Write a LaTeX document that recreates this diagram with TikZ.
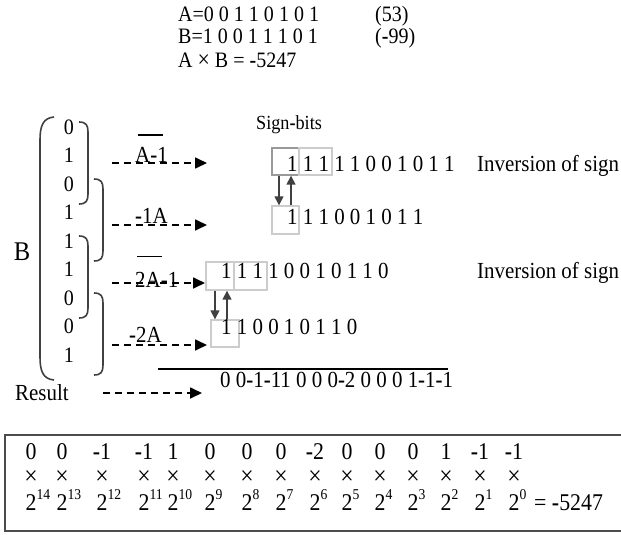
\documentclass[tikz,border=0pt]{standalone}
\usepackage{fontspec}
\setmainfont{Liberation Serif}[FakeStretch=0.91]
\usetikzlibrary{arrows.meta,calc}
\newcommand{\mn}{\textbf{-}}
\newcommand{\pow}[1]{2\raisebox{0.42em}{\fontsize{15}{17}\selectfont#1}}

\begin{document}
\begin{tikzpicture}[x=1pt,y=-1pt,
    txt/.style={anchor=base west,inner sep=0pt,font=\fontsize{23}{27}\selectfont},
    big/.style={txt,font=\fontsize{24}{28}\selectfont},
    feed/.style={line width=1.7pt,dash pattern=on 7pt off 5pt,-{Triangle[length=12pt,width=11pt]}},
    swap/.style={draw=black!75,line width=1.5pt,-{Triangle[length=9pt,width=9pt]}},
    brace/.style={draw=black!75,line width=1.6pt},
    cell/.style={draw=black!20,line width=1.4pt,inner sep=0pt,minimum height=27pt},
    bar/.style={line width=1.8pt}]
  \useasboundingbox (0,0) rectangle (621,535);

  % operands and product
  \node[txt,font=\fontsize{22}{26}\selectfont] (opa) at (178,22) {A=0 0 1 1 0 1 0 1};
  \node[txt,font=\fontsize{22}{26}\selectfont] (deca) at (375,22) {(53)};
  \node[txt,font=\fontsize{22}{26}\selectfont] (opb) at (178,44) {B=1 0 0 1 1 1 0 1};
  \node[txt,font=\fontsize{22}{26}\selectfont] (decb) at (375,44) {(\mn99)};
  \node[txt,font=\fontsize{22}{26}\selectfont] (prod) at (178,67) {A {\fontsize{24}{24}\selectfont×} B = \mn5247};

  % multiplier bits with overlapping groups of three
  \node[txt,anchor=base,font=\fontsize{27}{32}\selectfont] (B) at (22,260) {B};
  \foreach \b [count=\i from 0] in {0,1,0,1,1,1,0,0,1}
    \node[txt,anchor=base,font=\fontsize{22}{26}\selectfont] (b\i) at (69,134+28.5*\i) {\b};
  \draw[brace] (54,117) .. controls (43,118) and (40,126) .. (40,140) -- (40,357)
    .. controls (40,371) and (43,379) .. (54,380);
  \foreach \k/\x in {0/88,1/103,2/88,3/103}
    \draw[brace] (\x-9,122+57*\k) .. controls (\x-2,122+57*\k) and (\x,125+57*\k) .. (\x,132+57*\k)
      -- (\x,194+57*\k) .. controls (\x,201+57*\k) and (\x-2,204+57*\k) .. (\x-9,204+57*\k);

  % partial products
  \coordinate (f1) at (112,163); \coordinate (t1) at (207,163);
  \coordinate (f2) at (112,225); \coordinate (t2) at (207,225);
  \coordinate (f3) at (112,283); \coordinate (t3) at (205,283);
  \coordinate (f4) at (112,345); \coordinate (t4) at (207,345);
  \draw[feed] (f1) -- (t1);
  \draw[feed] (f2) -- (t2);
  \draw[feed] (f3) -- (t3);
  \draw[feed] (f4) -- (t4);
  \node[txt] (p1) at (135,162) {A\mn1};
  \draw[bar] ($(p1.north west)+(3,-12)$) -- ++(25,0);
  \node[txt] (p2) at (135,223) {\mn1A};
  \node[txt] (p3) at (135,287) {2A\mn1};
  \draw[bar] ($(p3.north west)+(2,-15)$) -- ++(25,0);
  \node[txt] (p4) at (129,342) {\mn2A};

  \node[txt,font=\fontsize{20}{24}\selectfont] (sgn) at (256,129) {Sign\mn bits};

  % sign-bit cells, first pair
  \node[cell,draw=black!40,minimum width=27pt] (s1a) at (285.5,161.5) {};
  \node[cell,minimum width=33pt] (s1b) at (315.5,161.5) {};
  \node[txt] (r1) at (287,171) {1 1 1 1 1 0 0 1 0 1 1};
  \node[txt] (inv1) at (477,171) {Inversion of sign};
  \node[cell,minimum width=27pt,minimum height=28pt] (s2) at (285.5,220) {};
  \node[txt] (r2) at (287,224) {1 1 1 0 0 1 0 1 1};
  \coordinate (d1) at ([xshift=-6.5pt]s1a.south);
  \coordinate (u1) at ([xshift=5.5pt]s1a.south);
  \draw[swap] (d1) -- (d1 |- s2.north);
  \draw[swap] (u1 |- s2.north) -- (u1);

  % sign-bit cells, second pair
  \node[cell,minimum width=28pt,minimum height=28pt] (s3a) at (220,276) {};
  \node[cell,minimum width=33pt,minimum height=28pt] (s3b) at (250.5,276) {};
  \node[txt] (r3) at (221,278) {1 1 1 1 0 0 1 0 1 1 0};
  \node[txt] (inv3) at (477,278) {Inversion of sign};
  \node[cell,minimum width=28pt] (s4) at (225,333.5) {};
  \node[txt] (r4) at (221,334) {1 1 0 0 1 0 1 1 0};
  \coordinate (d3) at ([xshift=-5pt]s3a.south);
  \coordinate (u3) at ([xshift=7pt]s3a.south);
  \draw[swap] (d3) -- (d3 |- s4.north);
  \draw[swap] (u3 |- s4.north) -- (u3);

  % sum
  \draw[line width=1.5pt] (158,369) -- (448,369);
  \node[txt] (sum) at (220,387) {0 0\mn1\mn11 0 0 0\mn2 0 0 0 1\mn1\mn1};
  \node[txt] (res) at (15,400) {Result};
  \coordinate (f5) at (103,393); \coordinate (t5) at (202,393);
  \draw[feed] (f5) -- (t5);

  % weighted sum
  \draw[line width=2pt,draw=black!70] (621,435) -- (5,435) -- (5,531) -- (621,531);
  \foreach \x/\bit/\pw in {31/0/14,62/0/13,102/\mn1/12,144/\mn1/11,173/1/10,210/0/9,247/0/8,
      281/0/7,315/\mn2/6,347/0/5,380/0/4,413/0/3,446/1/2,480/\mn1/1,514/\mn1/0} {
    \node[big,anchor=base] (c\pw) at (\x,459) {\bit};
    \node[big,anchor=center,font=\fontsize{26}{30}\selectfont] (m\pw) at (\x,478) {×};
    \node[big] (w\pw) at (\x-5.5,510) {\pow{\pw}};
  }
  \node[big] (tot) at (534,510) {= \mn5247};
\end{tikzpicture}
\end{document}
